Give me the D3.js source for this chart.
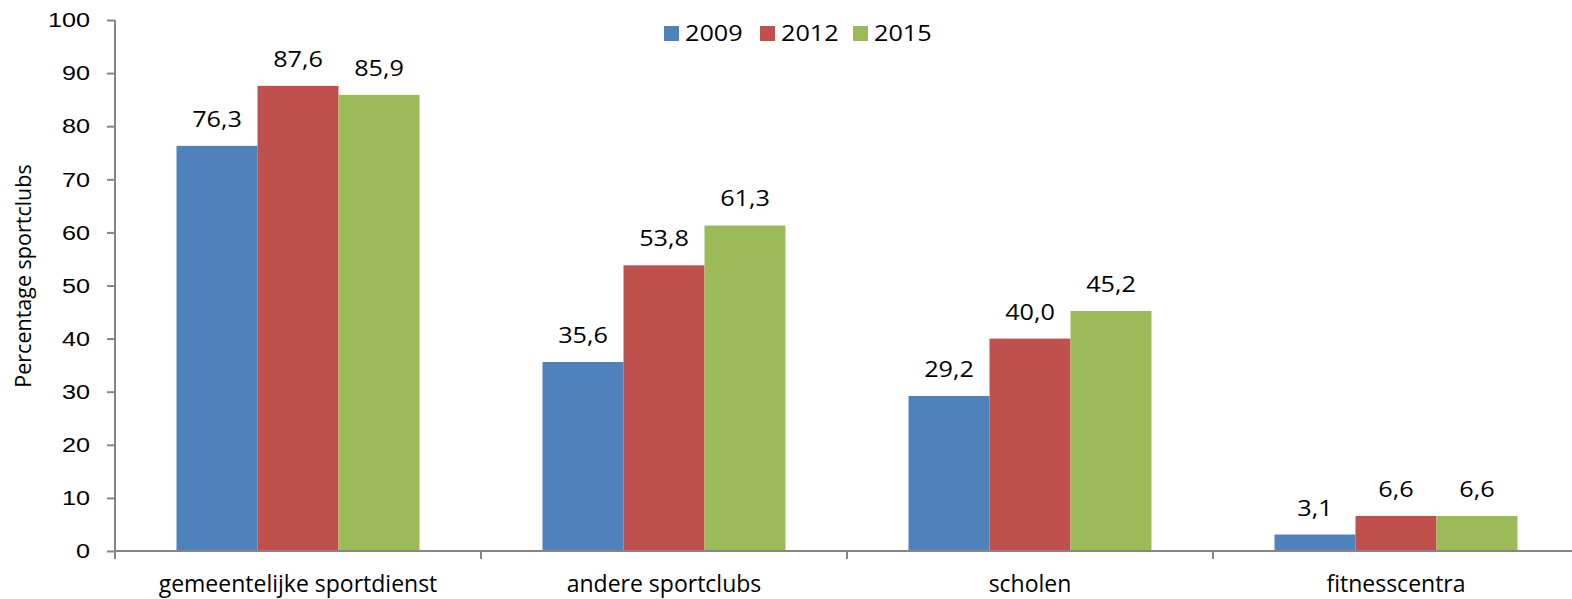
<!DOCTYPE html>
<html lang="nl">
  <head>
    <meta charset="UTF-8">
    <title>Percentage sportclubs</title>
    <script src="https://cdn.jsdelivr.net/npm/d3@7"></script>
    <style>
      html, body {
        margin: 0;
        padding: 0;
        background: #fff;
      }
      svg {
        display: block;
        font-family: 'Open Sans', sans-serif;
      }
      .axis path, .axis line {
        stroke: #868686;
        stroke-width: 2px;
      }
      .axis text {
        fill: #000;
      }
    </style>
  </head>
  <body>
    <script>
      const categories = ["gemeentelijke sportdienst", "andere sportclubs", "scholen", "fitnesscentra"];
      const years = ["2009", "2012", "2015"];
      const values2009 = [76.3, 35.6, 29.2, 3.1];
      const values2012 = [87.6, 53.8, 40.0, 6.6];
      const values2015 = [85.9, 61.3, 45.2, 6.6];
      const yTicks = [0, 10, 20, 30, 40, 50, 60, 70, 80, 90, 100];
      const colors = ["#4f81bd", "#c0504d", "#9bbb59"];

      const series = [values2009, values2012, values2015];
      const rows = categories.map((c, i) => ({
        cat: c,
        vals: years.map((yr, j) => ({ year: yr, value: series[j][i] }))
      }));

      const width = 1572, height = 599;
      const mLeft = 115, mBottom = 551, mTop = 20;
      const band = 366, groupW = 243;
      const plotRight = mLeft + categories.length * band;
      const numSize = "21px", numStretch = 1.2; // digits in the original are wide

      const svg = d3.select("body").append("svg")
        .attr("width", width)
        .attr("height", height);

      const x0 = d3.scaleBand().domain(categories).range([mLeft, plotRight]);
      // the three bars fill 243px in the middle of each 366px band
      const x1 = d3.scaleBand().domain(years)
        .range([(band - groupW) / 2, band - (band - groupW) / 2]);

      const y = d3.scaleLinear().domain([0, 100]).range([mBottom, mTop]);

      // y axis
      const yAxis = svg.append("g")
        .attr("class", "axis")
        .attr("transform", `translate(${mLeft},0)`)
        .call(d3.axisLeft(y).tickValues(yTicks).tickSize(8));
      yAxis.select(".domain").attr("d", `M0,${mTop}V${mBottom}`);
      yAxis.selectAll(".tick text")
        .attr("x", 0)
        .attr("transform", `translate(-25,0) scale(${numStretch},1)`)
        .style("font-size", numSize);

      // bars
      const groups = svg.selectAll("g.cat")
        .data(rows)
        .enter()
        .append("g")
        .attr("class", "cat")
        .attr("transform", d => `translate(${x0(d.cat)},0)`);

      groups.selectAll("rect")
        .data(d => d.vals)
        .enter()
        .append("rect")
        .attr("x", d => x1(d.year))
        .attr("y", d => y(d.value))
        .attr("width", x1.bandwidth())
        .attr("height", d => mBottom - y(d.value))
        .attr("fill", (d, i) => colors[i]);

      groups.selectAll("text")
        .data(d => d.vals)
        .enter()
        .append("text")
        .attr("transform", d => `translate(${x1(d.year) + x1.bandwidth() / 2},${y(d.value) - 19}) scale(${numStretch},1)`)
        .attr("text-anchor", "middle")
        .style("font-size", numSize)
        .text(d => d3.format(".1f")(d.value).replace(".", ","));

      // x axis
      const xAxis = svg.append("g")
        .attr("class", "axis")
        .attr("transform", `translate(0,${mBottom})`);
      xAxis.append("line")
        .attr("x1", mLeft).attr("x2", width)
        .attr("y1", 0).attr("y2", 0);
      xAxis.selectAll("line.tick")
        .data(d3.range(categories.length + 1))
        .enter()
        .append("line")
        .attr("class", "tick")
        .attr("x1", i => mLeft + i * band)
        .attr("x2", i => mLeft + i * band)
        .attr("y1", 0).attr("y2", 8);
      xAxis.selectAll("text")
        .data(categories)
        .enter()
        .append("text")
        .attr("x", d => x0(d) + x0.bandwidth() / 2)
        .attr("y", 41)
        .attr("text-anchor", "middle")
        .style("font-size", "23px")
        .text(d => d);

      // y title
      svg.append("text")
        .attr("transform", "translate(31,276) rotate(-90)")
        .attr("text-anchor", "middle")
        .style("font-size", "21.5px")
        .text("Percentage sportclubs");

      // legend
      const legendX = [664, 760, 853];
      const legend = svg.selectAll("g.legend")
        .data(years)
        .enter()
        .append("g")
        .attr("class", "legend")
        .attr("transform", (d, i) => `translate(${legendX[i]},26)`);
      legend.append("rect")
        .attr("width", 15).attr("height", 15)
        .attr("fill", (d, i) => colors[i]);
      legend.append("text")
        .attr("transform", `translate(21,15) scale(${numStretch},1)`)
        .style("font-size", numSize)
        .text(d => d);
    </script>
  </body>
</html>
